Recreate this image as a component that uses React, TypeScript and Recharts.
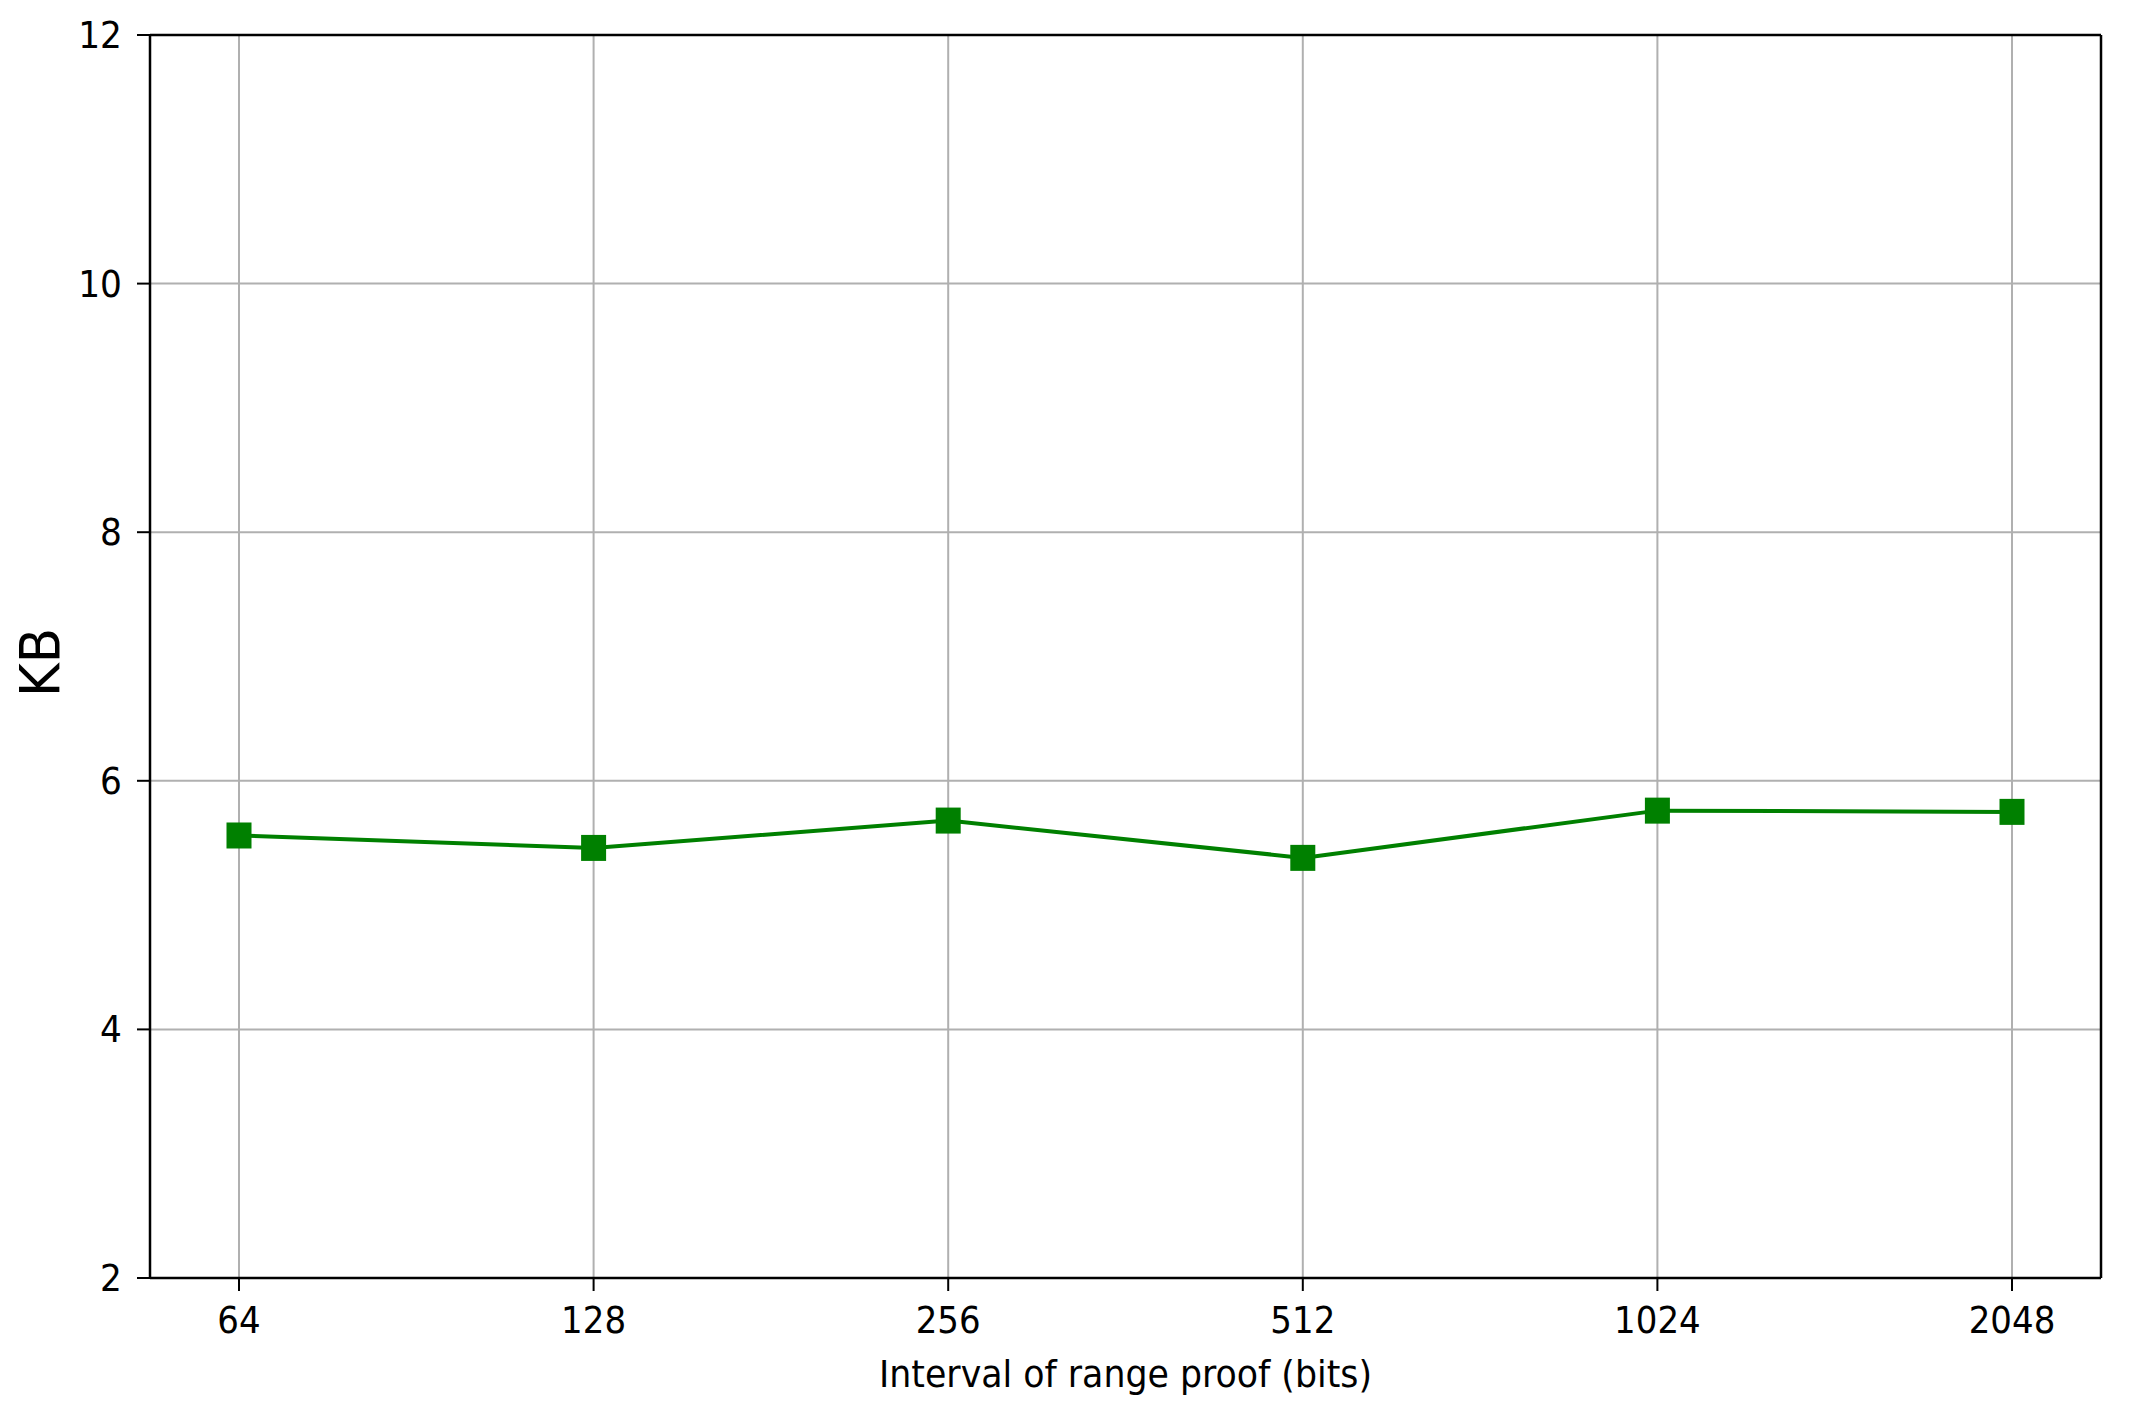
import React from 'react';
import { LineChart, Line, XAxis, YAxis, CartesianGrid } from 'recharts';

// interval sizes (bits) and proof size in KB
const bits = ['64', '128', '256', '512', '1024', '2048'];
const kb = [5.56, 5.46, 5.68, 5.38, 5.76, 5.75];
const yTicks = [2, 4, 6, 8, 10, 12];

const data = bits.map((b, i) => ({ bits: b, kb: kb[i] }));

const FONT = 'DejaVu Sans';
const GREEN = '#008000';

const XTick = (props: any) => {
  const { x, y, payload } = props;
  return (
    <text
      transform={`translate(${x},${y + 40}) scale(0.92,1)`}
      textAnchor="middle"
      fontFamily={FONT}
      fontSize={37}
      fill="#000"
    >
      {payload.value}
    </text>
  );
};

const YTick = (props: any) => {
  const { x, y, payload } = props;
  return (
    <text
      transform={`translate(${x - 13},${y + 13}) scale(0.93,1)`}
      textAnchor="end"
      fontFamily={FONT}
      fontSize={37}
      fill="#000"
    >
      {payload.value}
    </text>
  );
};

const XTitle = (props: any) => {
  const { x, y, width } = props.viewBox;
  return (
    <text
      transform={`translate(${x + width / 2},${y + 109}) scale(0.94,1)`}
      textAnchor="middle"
      fontFamily={FONT}
      fontSize={37}
      fill="#000"
    >
      Interval of range proof (bits)
    </text>
  );
};

const YTitle = (props: any) => {
  const { y, height } = props.viewBox;
  return (
    <text
      transform={`translate(59,${y + height / 2 + 6}) rotate(-90) scale(0.92,1)`}
      textAnchor="middle"
      fontFamily={FONT}
      fontSize={56}
      fill="#000"
    >
      KB
    </text>
  );
};

const SquareDot = (props: any) => {
  const { cx, cy, index } = props;
  return <rect key={`sq-${index}`} x={cx - 12.5} y={cy - 13} width={25} height={26} fill={GREEN} />;
};

export default function App() {
  return (
    <div style={{ position: 'absolute', left: 0, top: 0, width: 2129, height: 1410, background: '#fff' }}>
      <LineChart width={2129} height={1410} data={data} margin={{ top: 34, right: 27, bottom: 0, left: 0 }}>
        <CartesianGrid stroke="#b0b0b0" strokeWidth={2} />
        <XAxis
          dataKey="bits"
          type="category"
          height={132}
          padding={{ left: 89, right: 89 }}
          tickSize={13}
          tickLine={{ stroke: '#000', strokeWidth: 2 }}
          axisLine={{ stroke: '#000', strokeWidth: 2.5 }}
          tick={<XTick />}
          label={<XTitle />}
        />
        <XAxis
          xAxisId="top"
          orientation="top"
          dataKey="bits"
          height={1}
          padding={{ left: 89, right: 89 }}
          tick={false}
          tickLine={false}
          axisLine={{ stroke: '#000', strokeWidth: 2.5 }}
        />
        <YAxis
          type="number"
          domain={[2, 12]}
          ticks={yTicks}
          width={150}
          tickSize={13}
          tickLine={{ stroke: '#000', strokeWidth: 2 }}
          axisLine={{ stroke: '#000', strokeWidth: 2.5 }}
          tick={<YTick />}
          label={<YTitle />}
        />
        <YAxis
          yAxisId="right"
          orientation="right"
          type="number"
          domain={[2, 12]}
          width={1}
          tick={false}
          tickLine={false}
          axisLine={{ stroke: '#000', strokeWidth: 2.5 }}
        />
        {/* invisible series so the top/right frame axes get drawn */}
        <Line
          xAxisId="top"
          yAxisId="right"
          dataKey="kb"
          stroke="none"
          dot={false}
          activeDot={false}
          isAnimationActive={false}
        />
        <Line
          dataKey="kb"
          stroke={GREEN}
          strokeWidth={4}
          dot={SquareDot}
          activeDot={false}
          isAnimationActive={false}
        />
      </LineChart>
    </div>
  );
}
